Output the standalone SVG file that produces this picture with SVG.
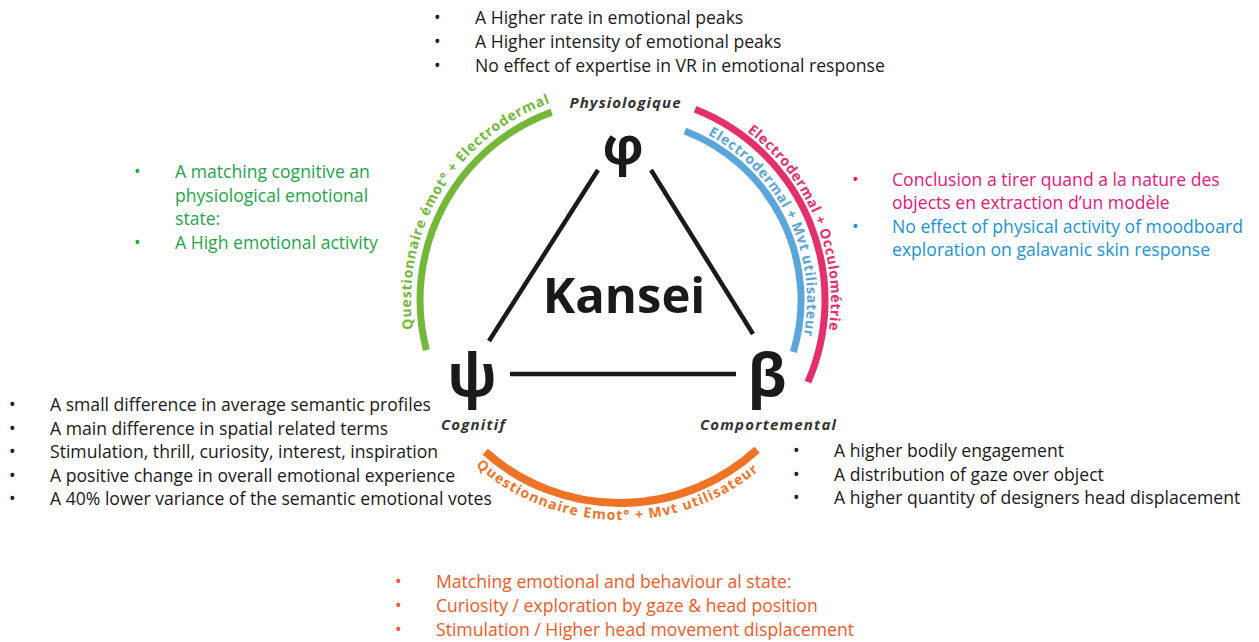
<svg xmlns="http://www.w3.org/2000/svg" width="1259" height="642" viewBox="0 0 1259 642">
<defs>
<style>
.li{font-family:"Open Sans","Liberation Sans",sans-serif;font-size:17.6px}
.blk{fill:#1a1a1a}
.grn{fill:#23a548}
.pnk{fill:#e2187b}
.blu{fill:#1c93d3}
.org{fill:#f05a28}
.arc{fill:none;stroke-linecap:butt}
.at{font-family:"Open Sans","Liberation Sans",sans-serif;font-size:14px;font-weight:bold}
.lbl{font-family:"Open Sans","Liberation Sans",sans-serif;font-size:15px;font-weight:bold;font-style:italic;fill:#333;text-anchor:middle}
.sym{font-family:"Open Sans","DejaVu Sans",sans-serif;font-weight:bold;fill:#1a1a1a;text-anchor:middle}
.edge{stroke:#1a1a1a;stroke-width:4.5;stroke-linecap:butt}
</style>
<path id="pGreenT" d="M413.0,329.1 A209,209 0 0 1 569.4,97.2"/>
<path id="pPinkT" d="M747.0,131.5 A211,211 0 0 1 823.8,354.6"/>
<path id="pBlueT" d="M707.8,134.9 A187,187 0 0 1 795.7,364.0"/>
<path id="pOrgT" d="M475.7,466.0 A220,220 0 0 0 775.6,455.6"/>
</defs>
<rect width="1259" height="642" fill="#fff"/>

<g id="arc-green">
<path class="arc" d="M426.4,350.1 A200,200 0 0 1 551.6,112.1" stroke="#74b83a" stroke-width="7"/>
<text class="at" fill="#74b83a"><textPath href="#pGreenT" textLength="286" lengthAdjust="spacing">Questionnaire émot° + Electrodermal</textPath></text>
</g>
<g id="arc-pink">
<path class="arc" d="M695.1,109.3 A205,205 0 0 1 807.9,382.1" stroke="#e3306c" stroke-width="7"/>
<text class="at" fill="#e3306c"><textPath href="#pPinkT" textLength="225" lengthAdjust="spacing">Electrodermal + Occulométrie</textPath></text>
</g>
<g id="arc-blue">
<path class="arc" d="M684.9,131.0 A181,181 0 0 1 793.4,352.0" stroke="#5aa5d9" stroke-width="7"/>
<text class="at" fill="#5aa5d9"><textPath href="#pBlueT" textLength="238" lengthAdjust="spacing">Electrodermal + Mvt utilisateur</textPath></text>
</g>
<g id="arc-orange">
<path class="arc" d="M485.2,451.8 A203,203 0 0 0 757.1,449.7" stroke="#ee7326" stroke-width="8"/>
<text class="at" fill="#ee7326"><textPath href="#pOrgT" textLength="307" lengthAdjust="spacing">Questionnaire Emot° + Mvt utilisateur</textPath></text>
</g>

<g id="connectors">
<line class="edge" x1="598" y1="170" x2="489" y2="341"/>
<line class="edge" x1="651" y1="170" x2="753" y2="334"/>
<line class="edge" x1="510" y1="374" x2="736" y2="374"/>
</g>

<g id="node-physiologique">
<text class="lbl" x="625" y="108" textLength="111" lengthAdjust="spacing">Physiologique</text>
<text class="sym" x="623" y="164" font-size="52">φ</text>
</g>
<g id="node-cognitif">
<text class="sym" x="472" y="396" font-size="59">ψ</text>
<text class="lbl" x="473" y="430" textLength="64" lengthAdjust="spacing">Cognitif</text>
</g>
<g id="node-comportemental">
<text class="sym" x="767" y="396" font-size="59">β</text>
<text class="lbl" x="768" y="430" textLength="136" lengthAdjust="spacing">Comportemental</text>
</g>
<g id="node-kansei">
<text x="624" y="313" font-family="Open Sans, Liberation Sans, sans-serif" font-weight="bold" font-size="49" fill="#1a1a1a" text-anchor="middle">Kansei</text>
</g>

<g id="list-top" class="li blk">
<text x="434" y="24">•</text><text x="475" y="24">A Higher rate in emotional peaks</text>
<text x="434" y="48">•</text><text x="475" y="48">A Higher intensity of emotional peaks</text>
<text x="434" y="72">•</text><text x="475" y="72">No effect of expertise in VR in emotional response</text>
</g>
<g id="list-green" class="li grn">
<text x="134" y="178">•</text><text x="175" y="178">A matching cognitive an</text>
<text x="175" y="202">physiological emotional</text>
<text x="175" y="225">state:</text>
<text x="134" y="249">•</text><text x="175" y="249">A High emotional activity</text>
</g>
<g id="list-pink-blue" class="li">
<text class="pnk" x="852" y="186">•</text><text class="pnk" x="892" y="186">Conclusion a tirer quand a la nature des</text>
<text class="pnk" x="892" y="209">objects en extraction d’un modèle</text>
<text class="blu" x="852" y="233">•</text><text class="blu" x="892" y="233">No effect of physical activity of moodboard</text>
<text class="blu" x="892" y="256">exploration on galavanic skin response</text>
</g>
<g id="list-left" class="li blk">
<text x="9" y="411">•</text><text x="50" y="411">A small difference in average semantic profiles</text>
<text x="9" y="434.5">•</text><text x="50" y="434.5">A main difference in spatial related terms</text>
<text x="9" y="458">•</text><text x="50" y="458">Stimulation, thrill, curiosity, interest, inspiration</text>
<text x="9" y="481.5">•</text><text x="50" y="481.5">A positive change in overall emotional experience</text>
<text x="9" y="505">•</text><text x="50" y="505">A 40% lower variance of the semantic emotional votes</text>
</g>
<g id="list-right" class="li blk">
<text x="793" y="457">•</text><text x="834" y="457">A higher bodily engagement</text>
<text x="793" y="481">•</text><text x="834" y="481">A distribution of gaze over object</text>
<text x="793" y="504">•</text><text x="834" y="504">A higher quantity of designers head displacement</text>
</g>
<g id="list-bottom" class="li org">
<text x="395" y="588">•</text><text x="436" y="588">Matching emotional and behaviour al state:</text>
<text x="395" y="612">•</text><text x="436" y="612">Curiosity / exploration by gaze &amp; head position</text>
<text x="395" y="636">•</text><text x="436" y="636">Stimulation / Higher head movement displacement</text>
</g>
</svg>
